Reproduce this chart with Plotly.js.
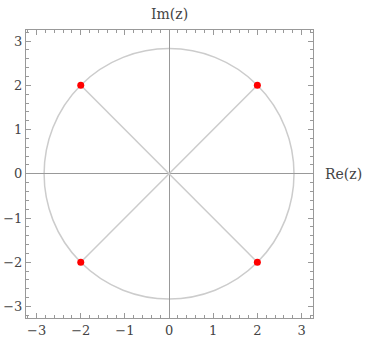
<!DOCTYPE html>
<html><head><meta charset="utf-8">
<script src="https://cdn.plot.ly/plotly-3.0.1.min.js"></script>
<style>body{margin:0;background:#fff}#c{width:373px;height:352px}</style>
</head><body><div id="c"></div>
<script>
const rootRe = [2, -2, -2, 2];
const rootIm = [2, 2, -2, -2];
const radius = 2.83;
const tickVals = [-3, -2, -1, 0, 1, 2, 3];

const spokes = {
  x: [], y: [], mode: 'lines', type: 'scatter', hoverinfo: 'skip',
  line: {color: '#cccccc', width: 1.5}, showlegend: false
};
rootRe.forEach((r, i) => { spokes.x.push(0, r, null); spokes.y.push(0, rootIm[i], null); });

const pts = {
  x: rootRe, y: rootIm, mode: 'markers', type: 'scatter',
  marker: {color: '#ff0000', size: 7}, showlegend: false
};

const serif = 'DejaVu Serif, Liberation Serif, serif';
const axisCommon = {
  tickvals: tickVals, ticks: 'inside', ticklen: 5, tickcolor: '#999',
  showline: true, linecolor: '#999', linewidth: 1, mirror: 'ticks',
  showgrid: false, zeroline: true, zerolinecolor: '#999', zerolinewidth: 1,
  tickfont: {family: serif, size: 13, color: '#444'},
  minor: {dtick: 0.2, ticks: 'inside', ticklen: 3, tickcolor: '#999', showgrid: false},
  fixedrange: true
};

const layout = {
  width: 373, height: 352,
  margin: {l: 26, r: 60, t: 30, b: 34},
  paper_bgcolor: '#fff', plot_bgcolor: '#fff',
  xaxis: Object.assign({}, axisCommon, {range: [-3.24, 3.26]}),
  yaxis: Object.assign({}, axisCommon, {range: [-3.26, 3.25]}),
  shapes: [{type: 'circle', xref: 'x', yref: 'y', x0: -radius, x1: radius, y0: -radius, y1: radius,
    line: {color: '#cccccc', width: 1.5}, layer: 'below'}],
  annotations: [
    {text: 'Im(z)', xref: 'x', yref: 'paper', x: 0, y: 1, yshift: 16, xanchor: 'center', yanchor: 'middle',
     showarrow: false, font: {family: serif, size: 14, color: '#444'}},
    {text: 'Re(z)', xref: 'paper', yref: 'y', x: 1, y: 0, xshift: 10, xanchor: 'left', yanchor: 'middle',
     showarrow: false, font: {family: serif, size: 14, color: '#444'}}
  ]
};

Plotly.newPlot('c', [spokes, pts], layout, {staticPlot: true});
</script></body></html>
